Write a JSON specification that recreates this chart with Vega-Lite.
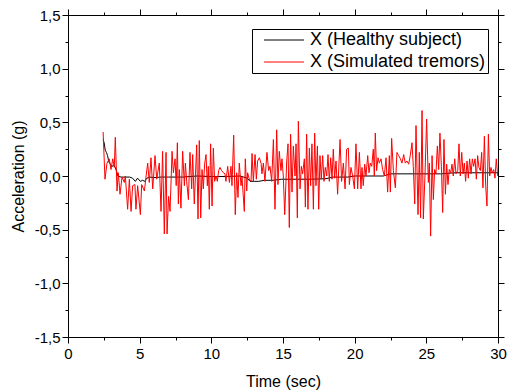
{
  "$schema": "https://vega.github.io/schema/vega-lite/v6.json",
  "width": 430,
  "height": 322,
  "autosize": "none",
  "padding": {"left": 68, "top": 15, "right": 9, "bottom": 55},
  "background": "white",
  "config": {
    "font": "Liberation Sans",
    "view": {"stroke": null},
    "axis": {"domainColor": "black", "domainWidth": 1, "tickColor": "black", "tickWidth": 1, "labelColor": "black", "titleColor": "black", "labelFontSize": 15, "titleFontSize": 16, "titleFontWeight": "normal", "grid": false, "labelFont": "Liberation Sans", "titleFont": "Liberation Sans", "labelOverlap": false, "labelBound": false, "labelFlush": false}
  },
  "data": {
    "values": [
      {"t":2.45,"v":0.34,"s":"X (Healthy subject)"},{"t":2.52,"v":0.31,"s":"X (Healthy subject)"},{"t":2.6,"v":0.24,"s":"X (Healthy subject)"},{"t":2.68,"v":0.22,"s":"X (Healthy subject)"},{"t":2.76,"v":0.19,"s":"X (Healthy subject)"},{"t":2.85,"v":0.13,"s":"X (Healthy subject)"},{"t":2.95,"v":0.11,"s":"X (Healthy subject)"},{"t":3.07,"v":0.09,"s":"X (Healthy subject)"},{"t":3.2,"v":0.1,"s":"X (Healthy subject)"},{"t":3.3,"v":0.08,"s":"X (Healthy subject)"},{"t":3.4,"v":0.04,"s":"X (Healthy subject)"},{"t":3.47,"v":0.0,"s":"X (Healthy subject)"},{"t":3.7,"v":-0.01,"s":"X (Healthy subject)"},{"t":4.0,"v":-0.01,"s":"X (Healthy subject)"},{"t":4.3,"v":-0.01,"s":"X (Healthy subject)"},{"t":4.5,"v":-0.02,"s":"X (Healthy subject)"},{"t":4.7,"v":-0.05,"s":"X (Healthy subject)"},{"t":4.85,"v":-0.02,"s":"X (Healthy subject)"},{"t":5.05,"v":-0.05,"s":"X (Healthy subject)"},{"t":5.2,"v":-0.04,"s":"X (Healthy subject)"},{"t":5.35,"v":-0.05,"s":"X (Healthy subject)"},{"t":5.5,"v":-0.02,"s":"X (Healthy subject)"},{"t":5.7,"v":-0.01,"s":"X (Healthy subject)"},{"t":6.0,"v":-0.015,"s":"X (Healthy subject)"},{"t":6.5,"v":-0.01,"s":"X (Healthy subject)"},{"t":7.0,"v":-0.01,"s":"X (Healthy subject)"},{"t":8.0,"v":-0.01,"s":"X (Healthy subject)"},{"t":9.0,"v":0.0,"s":"X (Healthy subject)"},{"t":10.0,"v":-0.005,"s":"X (Healthy subject)"},{"t":11.0,"v":-0.005,"s":"X (Healthy subject)"},{"t":12.0,"v":0.0,"s":"X (Healthy subject)"},{"t":12.5,"v":-0.02,"s":"X (Healthy subject)"},{"t":12.7,"v":-0.05,"s":"X (Healthy subject)"},{"t":13.0,"v":-0.05,"s":"X (Healthy subject)"},{"t":13.3,"v":-0.05,"s":"X (Healthy subject)"},{"t":13.7,"v":-0.04,"s":"X (Healthy subject)"},{"t":14.3,"v":-0.04,"s":"X (Healthy subject)"},{"t":14.9,"v":-0.03,"s":"X (Healthy subject)"},{"t":16.0,"v":-0.03,"s":"X (Healthy subject)"},{"t":17.0,"v":-0.03,"s":"X (Healthy subject)"},{"t":18.0,"v":-0.025,"s":"X (Healthy subject)"},{"t":18.5,"v":-0.01,"s":"X (Healthy subject)"},{"t":19.5,"v":-0.01,"s":"X (Healthy subject)"},{"t":20.0,"v":0.0,"s":"X (Healthy subject)"},{"t":21.0,"v":0.0,"s":"X (Healthy subject)"},{"t":22.0,"v":0.0,"s":"X (Healthy subject)"},{"t":22.5,"v":0.02,"s":"X (Healthy subject)"},{"t":24.0,"v":0.02,"s":"X (Healthy subject)"},{"t":26.0,"v":0.02,"s":"X (Healthy subject)"},{"t":27.0,"v":0.03,"s":"X (Healthy subject)"},{"t":28.5,"v":0.03,"s":"X (Healthy subject)"},{"t":29.5,"v":0.03,"s":"X (Healthy subject)"},{"t":30.0,"v":0.03,"s":"X (Healthy subject)"},
      {"t":2.45,"v":0.41,"s":"X (Simulated tremors)"},{"t":2.58,"v":-0.03,"s":"X (Simulated tremors)"},{"t":2.72,"v":0.12,"s":"X (Simulated tremors)"},{"t":2.88,"v":0.16,"s":"X (Simulated tremors)"},{"t":3.0,"v":0.06,"s":"X (Simulated tremors)"},{"t":3.12,"v":0.16,"s":"X (Simulated tremors)"},{"t":3.23,"v":0.08,"s":"X (Simulated tremors)"},{"t":3.3,"v":0.36,"s":"X (Simulated tremors)"},{"t":3.42,"v":-0.14,"s":"X (Simulated tremors)"},{"t":3.51,"v":0.03,"s":"X (Simulated tremors)"},{"t":3.63,"v":-0.17,"s":"X (Simulated tremors)"},{"t":3.77,"v":-0.01,"s":"X (Simulated tremors)"},{"t":3.93,"v":-0.06,"s":"X (Simulated tremors)"},{"t":4.0,"v":0.0,"s":"X (Simulated tremors)"},{"t":4.16,"v":-0.31,"s":"X (Simulated tremors)"},{"t":4.28,"v":-0.03,"s":"X (Simulated tremors)"},{"t":4.4,"v":-0.33,"s":"X (Simulated tremors)"},{"t":4.51,"v":-0.09,"s":"X (Simulated tremors)"},{"t":4.67,"v":-0.08,"s":"X (Simulated tremors)"},{"t":4.74,"v":-0.31,"s":"X (Simulated tremors)"},{"t":4.86,"v":-0.09,"s":"X (Simulated tremors)"},{"t":5.05,"v":-0.36,"s":"X (Simulated tremors)"},{"t":5.14,"v":-0.08,"s":"X (Simulated tremors)"},{"t":5.33,"v":-0.14,"s":"X (Simulated tremors)"},{"t":5.44,"v":-0.01,"s":"X (Simulated tremors)"},{"t":5.56,"v":0.12,"s":"X (Simulated tremors)"},{"t":5.67,"v":-0.06,"s":"X (Simulated tremors)"},{"t":5.79,"v":0.17,"s":"X (Simulated tremors)"},{"t":5.91,"v":-0.12,"s":"X (Simulated tremors)"},{"t":6.07,"v":0.19,"s":"X (Simulated tremors)"},{"t":6.19,"v":-0.03,"s":"X (Simulated tremors)"},{"t":6.37,"v":0.12,"s":"X (Simulated tremors)"},{"t":6.49,"v":-0.33,"s":"X (Simulated tremors)"},{"t":6.6,"v":0.23,"s":"X (Simulated tremors)"},{"t":6.72,"v":-0.54,"s":"X (Simulated tremors)"},{"t":6.84,"v":0.22,"s":"X (Simulated tremors)"},{"t":6.91,"v":-0.54,"s":"X (Simulated tremors)"},{"t":7.02,"v":-0.19,"s":"X (Simulated tremors)"},{"t":7.12,"v":-0.33,"s":"X (Simulated tremors)"},{"t":7.26,"v":0.23,"s":"X (Simulated tremors)"},{"t":7.35,"v":0.03,"s":"X (Simulated tremors)"},{"t":7.47,"v":0.16,"s":"X (Simulated tremors)"},{"t":7.55,"v":-0.09,"s":"X (Simulated tremors)"},{"t":7.63,"v":0.31,"s":"X (Simulated tremors)"},{"t":7.7,"v":-0.26,"s":"X (Simulated tremors)"},{"t":7.77,"v":0.06,"s":"X (Simulated tremors)"},{"t":7.88,"v":-0.3,"s":"X (Simulated tremors)"},{"t":8.0,"v":0.23,"s":"X (Simulated tremors)"},{"t":8.12,"v":-0.09,"s":"X (Simulated tremors)"},{"t":8.19,"v":0.12,"s":"X (Simulated tremors)"},{"t":8.28,"v":-0.05,"s":"X (Simulated tremors)"},{"t":8.4,"v":-0.22,"s":"X (Simulated tremors)"},{"t":8.51,"v":0.22,"s":"X (Simulated tremors)"},{"t":8.63,"v":-0.12,"s":"X (Simulated tremors)"},{"t":8.7,"v":0.2,"s":"X (Simulated tremors)"},{"t":8.81,"v":-0.26,"s":"X (Simulated tremors)"},{"t":8.98,"v":0.29,"s":"X (Simulated tremors)"},{"t":9.07,"v":-0.4,"s":"X (Simulated tremors)"},{"t":9.16,"v":0.33,"s":"X (Simulated tremors)"},{"t":9.26,"v":-0.39,"s":"X (Simulated tremors)"},{"t":9.35,"v":0.06,"s":"X (Simulated tremors)"},{"t":9.44,"v":-0.12,"s":"X (Simulated tremors)"},{"t":9.53,"v":0.11,"s":"X (Simulated tremors)"},{"t":9.63,"v":0.2,"s":"X (Simulated tremors)"},{"t":9.72,"v":-0.09,"s":"X (Simulated tremors)"},{"t":9.79,"v":0.09,"s":"X (Simulated tremors)"},{"t":9.86,"v":-0.31,"s":"X (Simulated tremors)"},{"t":9.95,"v":0.3,"s":"X (Simulated tremors)"},{"t":10.05,"v":-0.28,"s":"X (Simulated tremors)"},{"t":10.14,"v":0.26,"s":"X (Simulated tremors)"},{"t":10.23,"v":-0.05,"s":"X (Simulated tremors)"},{"t":10.33,"v":0.0,"s":"X (Simulated tremors)"},{"t":10.42,"v":-0.05,"s":"X (Simulated tremors)"},{"t":10.51,"v":0.05,"s":"X (Simulated tremors)"},{"t":10.6,"v":0.08,"s":"X (Simulated tremors)"},{"t":10.72,"v":0.05,"s":"X (Simulated tremors)"},{"t":10.84,"v":0.03,"s":"X (Simulated tremors)"},{"t":10.95,"v":0.02,"s":"X (Simulated tremors)"},{"t":11.02,"v":-0.05,"s":"X (Simulated tremors)"},{"t":11.14,"v":0.09,"s":"X (Simulated tremors)"},{"t":11.26,"v":-0.06,"s":"X (Simulated tremors)"},{"t":11.37,"v":0.09,"s":"X (Simulated tremors)"},{"t":11.44,"v":-0.09,"s":"X (Simulated tremors)"},{"t":11.56,"v":0.38,"s":"X (Simulated tremors)"},{"t":11.67,"v":-0.36,"s":"X (Simulated tremors)"},{"t":11.77,"v":0.03,"s":"X (Simulated tremors)"},{"t":11.86,"v":-0.2,"s":"X (Simulated tremors)"},{"t":11.95,"v":0.12,"s":"X (Simulated tremors)"},{"t":12.07,"v":-0.09,"s":"X (Simulated tremors)"},{"t":12.14,"v":-0.01,"s":"X (Simulated tremors)"},{"t":12.3,"v":-0.33,"s":"X (Simulated tremors)"},{"t":12.37,"v":0.16,"s":"X (Simulated tremors)"},{"t":12.47,"v":-0.14,"s":"X (Simulated tremors)"},{"t":12.53,"v":0.03,"s":"X (Simulated tremors)"},{"t":12.65,"v":-0.03,"s":"X (Simulated tremors)"},{"t":12.77,"v":-0.05,"s":"X (Simulated tremors)"},{"t":12.84,"v":0.21,"s":"X (Simulated tremors)"},{"t":12.93,"v":-0.05,"s":"X (Simulated tremors)"},{"t":13.05,"v":0.2,"s":"X (Simulated tremors)"},{"t":13.14,"v":-0.03,"s":"X (Simulated tremors)"},{"t":13.23,"v":0.14,"s":"X (Simulated tremors)"},{"t":13.35,"v":0.17,"s":"X (Simulated tremors)"},{"t":13.47,"v":0.12,"s":"X (Simulated tremors)"},{"t":13.53,"v":0.02,"s":"X (Simulated tremors)"},{"t":13.63,"v":0.12,"s":"X (Simulated tremors)"},{"t":13.74,"v":-0.05,"s":"X (Simulated tremors)"},{"t":13.88,"v":0.22,"s":"X (Simulated tremors)"},{"t":14.0,"v":0.05,"s":"X (Simulated tremors)"},{"t":14.09,"v":0.09,"s":"X (Simulated tremors)"},{"t":14.21,"v":-0.05,"s":"X (Simulated tremors)"},{"t":14.33,"v":0.34,"s":"X (Simulated tremors)"},{"t":14.44,"v":-0.31,"s":"X (Simulated tremors)"},{"t":14.56,"v":0.43,"s":"X (Simulated tremors)"},{"t":14.65,"v":-0.08,"s":"X (Simulated tremors)"},{"t":14.74,"v":0.23,"s":"X (Simulated tremors)"},{"t":14.86,"v":0.05,"s":"X (Simulated tremors)"},{"t":14.93,"v":0.16,"s":"X (Simulated tremors)"},{"t":15.02,"v":0.0,"s":"X (Simulated tremors)"},{"t":15.12,"v":-0.36,"s":"X (Simulated tremors)"},{"t":15.26,"v":0.14,"s":"X (Simulated tremors)"},{"t":15.35,"v":0.3,"s":"X (Simulated tremors)"},{"t":15.44,"v":-0.48,"s":"X (Simulated tremors)"},{"t":15.53,"v":0.39,"s":"X (Simulated tremors)"},{"t":15.63,"v":-0.15,"s":"X (Simulated tremors)"},{"t":15.72,"v":0.28,"s":"X (Simulated tremors)"},{"t":15.84,"v":0.0,"s":"X (Simulated tremors)"},{"t":15.91,"v":0.3,"s":"X (Simulated tremors)"},{"t":16.0,"v":-0.39,"s":"X (Simulated tremors)"},{"t":16.07,"v":0.51,"s":"X (Simulated tremors)"},{"t":16.19,"v":-0.12,"s":"X (Simulated tremors)"},{"t":16.28,"v":0.09,"s":"X (Simulated tremors)"},{"t":16.37,"v":0.02,"s":"X (Simulated tremors)"},{"t":16.49,"v":0.16,"s":"X (Simulated tremors)"},{"t":16.56,"v":-0.29,"s":"X (Simulated tremors)"},{"t":16.65,"v":0.39,"s":"X (Simulated tremors)"},{"t":16.74,"v":-0.31,"s":"X (Simulated tremors)"},{"t":16.84,"v":0.26,"s":"X (Simulated tremors)"},{"t":16.93,"v":-0.09,"s":"X (Simulated tremors)"},{"t":17.02,"v":0.3,"s":"X (Simulated tremors)"},{"t":17.12,"v":-0.31,"s":"X (Simulated tremors)"},{"t":17.21,"v":0.4,"s":"X (Simulated tremors)"},{"t":17.3,"v":-0.09,"s":"X (Simulated tremors)"},{"t":17.4,"v":0.28,"s":"X (Simulated tremors)"},{"t":17.49,"v":-0.31,"s":"X (Simulated tremors)"},{"t":17.58,"v":0.19,"s":"X (Simulated tremors)"},{"t":17.67,"v":-0.03,"s":"X (Simulated tremors)"},{"t":17.77,"v":0.19,"s":"X (Simulated tremors)"},{"t":17.86,"v":-0.05,"s":"X (Simulated tremors)"},{"t":17.95,"v":0.08,"s":"X (Simulated tremors)"},{"t":18.05,"v":0.0,"s":"X (Simulated tremors)"},{"t":18.14,"v":0.2,"s":"X (Simulated tremors)"},{"t":18.23,"v":-0.05,"s":"X (Simulated tremors)"},{"t":18.33,"v":0.17,"s":"X (Simulated tremors)"},{"t":18.42,"v":-0.03,"s":"X (Simulated tremors)"},{"t":18.51,"v":0.25,"s":"X (Simulated tremors)"},{"t":18.6,"v":-0.02,"s":"X (Simulated tremors)"},{"t":18.7,"v":0.14,"s":"X (Simulated tremors)"},{"t":18.81,"v":-0.17,"s":"X (Simulated tremors)"},{"t":18.98,"v":0.34,"s":"X (Simulated tremors)"},{"t":19.09,"v":-0.05,"s":"X (Simulated tremors)"},{"t":19.21,"v":0.12,"s":"X (Simulated tremors)"},{"t":19.33,"v":-0.12,"s":"X (Simulated tremors)"},{"t":19.44,"v":0.25,"s":"X (Simulated tremors)"},{"t":19.56,"v":0.26,"s":"X (Simulated tremors)"},{"t":19.63,"v":-0.08,"s":"X (Simulated tremors)"},{"t":19.74,"v":0.08,"s":"X (Simulated tremors)"},{"t":19.86,"v":0.0,"s":"X (Simulated tremors)"},{"t":19.98,"v":-0.12,"s":"X (Simulated tremors)"},{"t":20.09,"v":0.3,"s":"X (Simulated tremors)"},{"t":20.21,"v":-0.12,"s":"X (Simulated tremors)"},{"t":20.33,"v":0.22,"s":"X (Simulated tremors)"},{"t":20.44,"v":-0.12,"s":"X (Simulated tremors)"},{"t":20.51,"v":0.08,"s":"X (Simulated tremors)"},{"t":20.6,"v":-0.09,"s":"X (Simulated tremors)"},{"t":20.7,"v":0.11,"s":"X (Simulated tremors)"},{"t":20.79,"v":0.0,"s":"X (Simulated tremors)"},{"t":20.91,"v":0.19,"s":"X (Simulated tremors)"},{"t":21.0,"v":0.03,"s":"X (Simulated tremors)"},{"t":21.09,"v":0.12,"s":"X (Simulated tremors)"},{"t":21.19,"v":0.09,"s":"X (Simulated tremors)"},{"t":21.3,"v":0.25,"s":"X (Simulated tremors)"},{"t":21.37,"v":0.0,"s":"X (Simulated tremors)"},{"t":21.44,"v":0.4,"s":"X (Simulated tremors)"},{"t":21.53,"v":0.05,"s":"X (Simulated tremors)"},{"t":21.63,"v":0.17,"s":"X (Simulated tremors)"},{"t":21.72,"v":0.12,"s":"X (Simulated tremors)"},{"t":21.84,"v":0.16,"s":"X (Simulated tremors)"},{"t":21.95,"v":0.06,"s":"X (Simulated tremors)"},{"t":22.07,"v":0.0,"s":"X (Simulated tremors)"},{"t":22.19,"v":0.17,"s":"X (Simulated tremors)"},{"t":22.3,"v":-0.15,"s":"X (Simulated tremors)"},{"t":22.42,"v":0.19,"s":"X (Simulated tremors)"},{"t":22.49,"v":-0.15,"s":"X (Simulated tremors)"},{"t":22.58,"v":0.35,"s":"X (Simulated tremors)"},{"t":22.7,"v":0.05,"s":"X (Simulated tremors)"},{"t":22.84,"v":-0.11,"s":"X (Simulated tremors)"},{"t":22.95,"v":0.22,"s":"X (Simulated tremors)"},{"t":23.07,"v":0.19,"s":"X (Simulated tremors)"},{"t":23.19,"v":0.16,"s":"X (Simulated tremors)"},{"t":23.3,"v":0.12,"s":"X (Simulated tremors)"},{"t":23.42,"v":0.2,"s":"X (Simulated tremors)"},{"t":23.53,"v":0.12,"s":"X (Simulated tremors)"},{"t":23.65,"v":0.14,"s":"X (Simulated tremors)"},{"t":23.77,"v":0.11,"s":"X (Simulated tremors)"},{"t":23.88,"v":0.19,"s":"X (Simulated tremors)"},{"t":24.0,"v":0.31,"s":"X (Simulated tremors)"},{"t":24.09,"v":0.09,"s":"X (Simulated tremors)"},{"t":24.19,"v":-0.26,"s":"X (Simulated tremors)"},{"t":24.28,"v":0.47,"s":"X (Simulated tremors)"},{"t":24.42,"v":-0.36,"s":"X (Simulated tremors)"},{"t":24.51,"v":0.22,"s":"X (Simulated tremors)"},{"t":24.6,"v":-0.39,"s":"X (Simulated tremors)"},{"t":24.7,"v":0.61,"s":"X (Simulated tremors)"},{"t":24.79,"v":-0.4,"s":"X (Simulated tremors)"},{"t":24.91,"v":0.02,"s":"X (Simulated tremors)"},{"t":25.02,"v":0.53,"s":"X (Simulated tremors)"},{"t":25.14,"v":-0.06,"s":"X (Simulated tremors)"},{"t":25.21,"v":0.12,"s":"X (Simulated tremors)"},{"t":25.3,"v":-0.56,"s":"X (Simulated tremors)"},{"t":25.4,"v":0.19,"s":"X (Simulated tremors)"},{"t":25.49,"v":-0.22,"s":"X (Simulated tremors)"},{"t":25.58,"v":0.06,"s":"X (Simulated tremors)"},{"t":25.67,"v":0.02,"s":"X (Simulated tremors)"},{"t":25.77,"v":0.28,"s":"X (Simulated tremors)"},{"t":25.86,"v":0.06,"s":"X (Simulated tremors)"},{"t":25.95,"v":0.4,"s":"X (Simulated tremors)"},{"t":26.05,"v":0.09,"s":"X (Simulated tremors)"},{"t":26.14,"v":-0.34,"s":"X (Simulated tremors)"},{"t":26.23,"v":0.34,"s":"X (Simulated tremors)"},{"t":26.33,"v":-0.17,"s":"X (Simulated tremors)"},{"t":26.42,"v":0.11,"s":"X (Simulated tremors)"},{"t":26.51,"v":-0.08,"s":"X (Simulated tremors)"},{"t":26.6,"v":0.06,"s":"X (Simulated tremors)"},{"t":26.7,"v":0.03,"s":"X (Simulated tremors)"},{"t":26.79,"v":0.11,"s":"X (Simulated tremors)"},{"t":26.88,"v":0.0,"s":"X (Simulated tremors)"},{"t":26.98,"v":0.16,"s":"X (Simulated tremors)"},{"t":27.07,"v":0.02,"s":"X (Simulated tremors)"},{"t":27.19,"v":0.05,"s":"X (Simulated tremors)"},{"t":27.28,"v":0.3,"s":"X (Simulated tremors)"},{"t":27.37,"v":0.0,"s":"X (Simulated tremors)"},{"t":27.47,"v":0.22,"s":"X (Simulated tremors)"},{"t":27.56,"v":0.02,"s":"X (Simulated tremors)"},{"t":27.65,"v":0.12,"s":"X (Simulated tremors)"},{"t":27.74,"v":-0.05,"s":"X (Simulated tremors)"},{"t":27.84,"v":0.14,"s":"X (Simulated tremors)"},{"t":27.93,"v":-0.02,"s":"X (Simulated tremors)"},{"t":28.02,"v":0.16,"s":"X (Simulated tremors)"},{"t":28.12,"v":0.02,"s":"X (Simulated tremors)"},{"t":28.21,"v":0.16,"s":"X (Simulated tremors)"},{"t":28.3,"v":0.09,"s":"X (Simulated tremors)"},{"t":28.4,"v":0.16,"s":"X (Simulated tremors)"},{"t":28.49,"v":-0.03,"s":"X (Simulated tremors)"},{"t":28.58,"v":0.19,"s":"X (Simulated tremors)"},{"t":28.67,"v":0.08,"s":"X (Simulated tremors)"},{"t":28.77,"v":0.05,"s":"X (Simulated tremors)"},{"t":28.86,"v":0.22,"s":"X (Simulated tremors)"},{"t":28.95,"v":-0.11,"s":"X (Simulated tremors)"},{"t":29.05,"v":0.37,"s":"X (Simulated tremors)"},{"t":29.14,"v":-0.09,"s":"X (Simulated tremors)"},{"t":29.23,"v":-0.28,"s":"X (Simulated tremors)"},{"t":29.33,"v":0.39,"s":"X (Simulated tremors)"},{"t":29.42,"v":0.0,"s":"X (Simulated tremors)"},{"t":29.51,"v":0.08,"s":"X (Simulated tremors)"},{"t":29.6,"v":0.03,"s":"X (Simulated tremors)"},{"t":29.7,"v":0.06,"s":"X (Simulated tremors)"},{"t":29.79,"v":-0.02,"s":"X (Simulated tremors)"},{"t":29.88,"v":0.16,"s":"X (Simulated tremors)"},{"t":29.98,"v":0.0,"s":"X (Simulated tremors)"}
    ]
  },
  "layer": [
    {
      "mark": {"type": "line", "strokeWidth": 1, "clip": true},
      "encoding": {
        "x": {"field": "t", "type": "quantitative", "scale": {"domain": [0, 30], "nice": false, "zero": false},
          "axis": {"orient": "bottom", "title": "Time (sec)", "values": [0,2.5,5,7.5,10,12.5,15,17.5,20,22.5,25,27.5,30],
            "labelExpr": "datum.value % 5 === 0 ? format(datum.value, 'd') : ''",
            "tickSize": {"condition": {"test": "datum.value % 5 === 0", "value": 6}, "value": 3},
            "labelPadding": 3, "titlePadding": 12}},
        "y": {"field": "v", "type": "quantitative", "scale": {"domain": [-1.5, 1.5], "nice": false, "zero": false},
          "axis": {"orient": "left", "title": "Acceleration (g)", "values": [-1.5,-1.25,-1,-0.75,-0.5,-0.25,0,0.25,0.5,0.75,1,1.25,1.5],
            "labelExpr": "datum.value % 0.5 === 0 ? (datum.value < 0 ? '-' : '') + replace(format(abs(datum.value), '.1f'), '.', ',') : ''",
            "tickSize": {"condition": {"test": "datum.value % 0.5 === 0", "value": 6}, "value": 3},
            "labelPadding": 2, "titlePadding": 8}},
        "color": {"field": "s", "type": "nominal",
          "scale": {"domain": ["X (Healthy subject)", "X (Simulated tremors)"], "range": ["#000000", "#ff0000"]},
          "legend": {"orient": "none", "legendX": 184, "legendY": 14, "title": null, "strokeColor": "black", "padding": 2,
            "symbolType": "M-2.5,0L2.5,0", "symbolSize": 256, "symbolStrokeWidth": 1, "symbolOffset": 21,
            "labelFontSize": 18, "labelFont": "Liberation Sans", "labelColor": "black", "labelOffset": 17, "labelLimit": 400, "rowPadding": 4, "fillColor": "white"}}
      }
    },
    {
      "mark": {"type": "line", "strokeOpacity": 0},
      "encoding": {
        "x": {"field": "t", "type": "quantitative", "scale": {"domain": [0, 30], "nice": false, "zero": false},
          "axis": {"orient": "top", "title": null, "labels": false, "values": [0,2.5,5,7.5,10,12.5,15,17.5,20,22.5,25,27.5,30],
            "tickSize": {"condition": {"test": "datum.value % 5 === 0", "value": 6}, "value": 3}}},
        "y": {"field": "v", "type": "quantitative", "scale": {"domain": [-1.5, 1.5], "nice": false, "zero": false},
          "axis": {"orient": "right", "title": null, "labels": false, "values": [-1.5,-1.25,-1,-0.75,-0.5,-0.25,0,0.25,0.5,0.75,1,1.25,1.5],
            "tickSize": {"condition": {"test": "datum.value % 0.5 === 0", "value": 6}, "value": 3}}},
        "detail": {"field": "s", "type": "nominal"}
      }
    }
  ],
  "resolve": {"axis": {"x": "independent", "y": "independent"}}
}
